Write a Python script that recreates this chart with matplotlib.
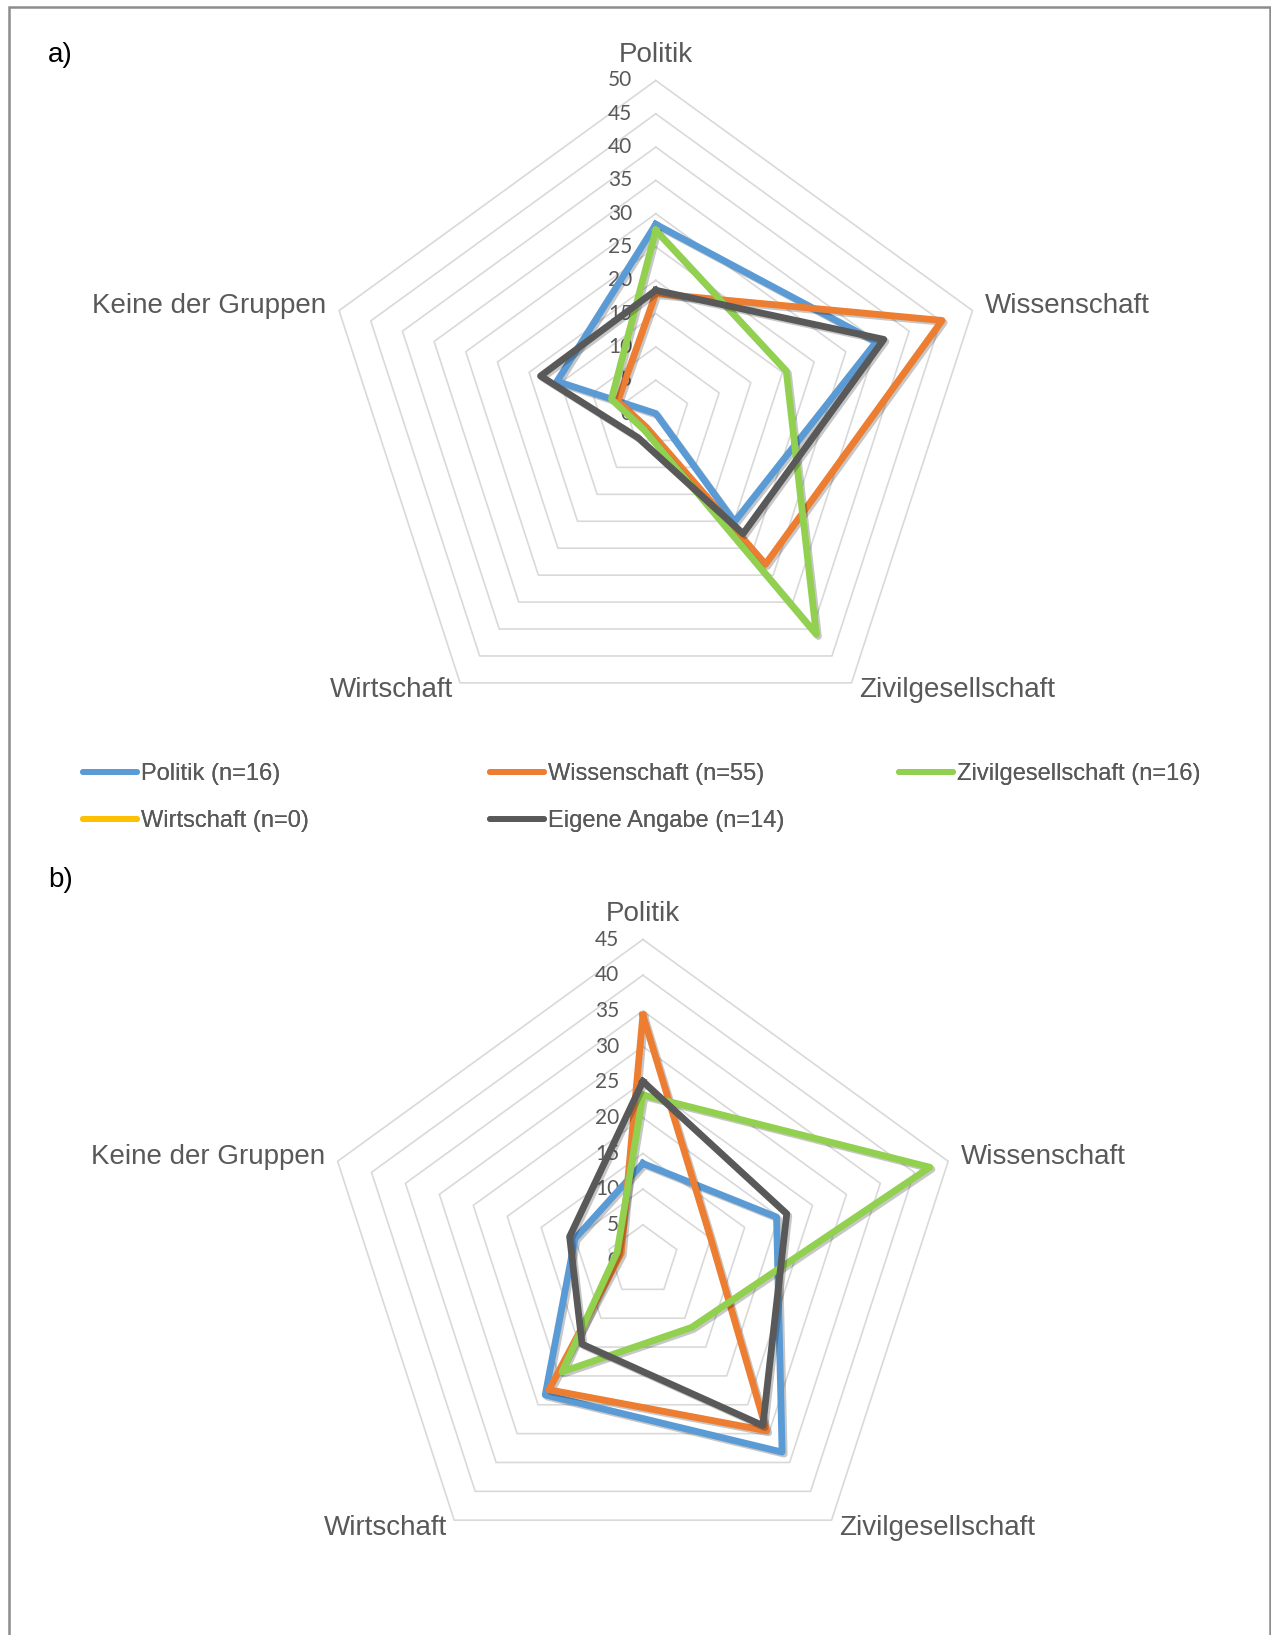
import numpy as np
import matplotlib
matplotlib.use("Agg")
import matplotlib.pyplot as plt
import matplotlib.patheffects as pe
from matplotlib.lines import Line2D
from matplotlib.patches import Rectangle

plt.rcParams["font.family"] = ["Liberation Sans", "DejaVu Sans"]

W, H, DPI = 1271, 1635, 100

CATEGORIES = ["Politik", "Wissenschaft", "Zivilgesellschaft", "Wirtschaft", "Keine der Gruppen"]

SERIES_NAMES = ["Politik (n=16)", "Wissenschaft (n=55)", "Zivilgesellschaft (n=16)",
                "Wirtschaft (n=0)", "Eigene Angabe (n=14)"]
SERIES_COLORS = ["#5B9BD5", "#ED7D31", "#92D050", "#FFC000", "#595959"]

# shares in %, same order as CATEGORIES; the Wirtschaft group (n=0) has no values
A_POLITIK = [28.4, 34.8, 20.1, 0.0, 15.6]
A_WISSENSCHAFT = [18.0, 45.2, 28.0, 2.5, 6.0]
A_ZIVIL = [27.5, 20.6, 41.0, 3.0, 7.0]
A_WIRTSCHAFT = None
A_EIGENE = [18.5, 36.0, 22.3, 4.5, 18.2]

B_POLITIK = [13.6, 19.7, 33.2, 23.3, 10.0]
B_WISSENSCHAFT = [34.4, 10.0, 29.5, 22.4, 3.2]
B_ZIVIL = [23.2, 42.3, 11.6, 19.3, 3.8]
B_WIRTSCHAFT = None
B_EIGENE = [25.1, 21.2, 28.6, 14.5, 10.8]

A_TICKS = list(range(0, 51, 5))
B_TICKS = list(range(0, 46, 5))

TEXT_GREY = "#595959"
GRID_GREY = "#D9D9D9"

angles = np.deg2rad(90 - 72 * np.arange(len(CATEGORIES)))


def to_xy(values):
    r = np.asarray(values, dtype=float)
    x = r * np.cos(angles)
    y = r * np.sin(angles)
    return np.append(x, x[0]), np.append(y, y[0])


def radar(fig, cx, cy, radius_px, ticks, series):
    rmax = ticks[-1]
    ppu = radius_px / rmax
    half = rmax * 1.25
    size = 2 * half * ppu
    ax = fig.add_axes([(cx - size / 2) / W, (H - cy - size / 2) / H, size / W, size / H])
    ax.set_xlim(-half, half)
    ax.set_ylim(-half, half)
    ax.set_aspect("equal")
    ax.axis("off")

    # pentagon rings
    for t in ticks[1:]:
        x, y = to_xy([t] * len(CATEGORIES))
        ax.plot(x, y, color=GRID_GREY, lw=1.2, zorder=1, clip_on=False)
    for t in ticks:
        ax.annotate(str(t), (0, t), xytext=(-17, 0), textcoords="offset points",
                    ha="right", va="center", fontsize=15, color=TEXT_GREY,
                    family=["Lato", "DejaVu Sans"], zorder=2)

    # category labels around the outer ring
    offsets = [((0, 9), "center", "bottom"), ((9, 3), "left", "center"),
               ((5.5, 4), "left", "top"), ((-5, 4), "right", "top"),
               ((-9, 3), "right", "center")]
    for name, ang, (off, ha, va) in zip(CATEGORIES, angles, offsets):
        ax.annotate(name, (rmax * np.cos(ang), rmax * np.sin(ang)), xytext=off,
                    textcoords="offset points", ha=ha, va=va, fontsize=20,
                    color=TEXT_GREY)

    shadow = [pe.SimpleLineShadow(offset=(1.5, -1.5), shadow_color="black", alpha=0.22),
              pe.Normal()]
    for values, color in zip(series, SERIES_COLORS):
        if values is None:
            continue
        x, y = to_xy(values)
        ax.plot(x, y, color=color, lw=4.9, solid_joinstyle="round",
                zorder=3, clip_on=False, path_effects=shadow)
    return ax


fig = plt.figure(figsize=(W / DPI, H / DPI), dpi=DPI)

radar(fig, 655.8, 413.5, 333, A_TICKS,
      [A_POLITIK, A_WISSENSCHAFT, A_ZIVIL, A_WIRTSCHAFT, A_EIGENE])
radar(fig, 642.9, 1260.5, 321, B_TICKS,
      [B_POLITIK, B_WISSENSCHAFT, B_ZIVIL, B_WIRTSCHAFT, B_EIGENE])

# legend, laid out in three columns like the original chart
handles = [Line2D([], [], color=c, lw=4.2, solid_capstyle="round") for c in SERIES_COLORS]
columns = [([0, 3], 83), ([1, 4], 490), ([2], 899)]
for idx, x0 in columns:
    leg = fig.legend([handles[i] for i in idx], [SERIES_NAMES[i] for i in idx],
                     loc="upper left", bbox_to_anchor=(x0 / W, 1 - 763 / H),
                     frameon=False, fontsize=17, labelcolor=TEXT_GREY,
                     handlelength=2.3, handletextpad=0.15, labelspacing=1.05,
                     borderpad=0, borderaxespad=0)
    fig.add_artist(leg)

fig.text(48 / W, 1 - 55 / H, "a)", fontsize=20, color="black", ha="left", va="center")
fig.text(48 / W, 1 - 880 / H, "b)", fontsize=20, color="black", ha="left", va="center")

# outer frame (open at the bottom)
fig.add_artist(Rectangle((9 / W, -0.05), (1270 - 9) / W, 1.05 - 7 / H,
                         transform=fig.transFigure, fill=False,
                         edgecolor="#8C8C8C", lw=1.8))

fig.savefig("out.png", dpi=DPI)
